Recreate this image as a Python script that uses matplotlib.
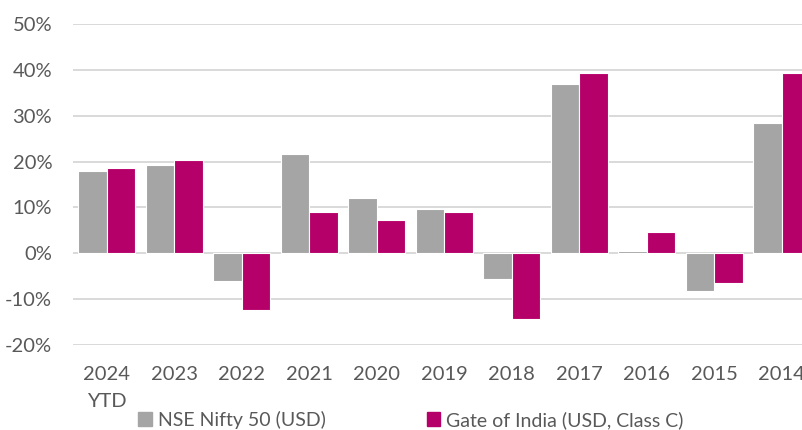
import numpy as np
import matplotlib
matplotlib.use("Agg")
from matplotlib import pyplot as plt
from matplotlib.patches import Patch
from matplotlib.ticker import FuncFormatter

# data (annual returns, %)
years = ['2024\nYTD', '2023', '2022', '2021', '2020', '2019',
         '2018', '2017', '2016', '2015', '2014']
nifty = [17.9, 19.2, -6.0, 21.6, 12.0, 9.6, -5.5, 36.9, 0.5, -8.3, 28.5]
gate = [18.6, 20.4, -12.4, 8.9, 7.3, 8.9, -14.4, 39.3, 4.7, -6.4, 39.3]

grey = '#A5A5A5'
magenta = '#B5006A'
text_col = '#595959'

plt.rcParams['font.family'] = ['Lato', 'DejaVu Sans']

fig = plt.figure(figsize=(8.03, 4.30), dpi=100)
ax = fig.add_axes([73 / 803, 1 - 345 / 430, 742.5 / 803, 321 / 430])

x = np.arange(len(years))
w = 0.42
ax.bar(x - w / 2, nifty, w, color=grey, edgecolor='white', linewidth=0.8,
       zorder=3)
ax.bar(x + w / 2, gate, w, color=magenta, edgecolor='white', linewidth=0.8,
       zorder=3)

ax.set_xlim(-0.5, len(years) - 0.5)
ax.set_ylim(-20, 50)
ax.set_yticks(np.arange(-20, 51, 10))
ax.yaxis.set_major_formatter(FuncFormatter(lambda v, p: f'{v:.0f}%'))
ax.set_xticks(x)
ax.set_xticklabels(years)

ax.grid(axis='y', color='#D9D9D9', linewidth=1.4, zorder=0)
for s in ax.spines.values():
    s.set_visible(False)
ax.tick_params(axis='both', length=0, labelsize=14.5, labelcolor=text_col)
ax.tick_params(axis='y', pad=15)
ax.tick_params(axis='x', pad=15)
for lab in ax.get_xticklabels():
    lab.set_linespacing(1.75)

handles = [Patch(color=grey, label='NSE Nifty 50 (USD)'),
           Patch(color=magenta, label='Gate of India (USD, Class C)')]
fig.legend(handles=handles, loc='center', bbox_to_anchor=(411 / 803, 1 - 420 / 430),
           ncol=2, frameon=False, fontsize=14, labelcolor=text_col,
           handlelength=0.7, handleheight=0.7, handletextpad=0.3,
           columnspacing=5.2, borderpad=0)

fig.savefig('out.png', dpi=100)
